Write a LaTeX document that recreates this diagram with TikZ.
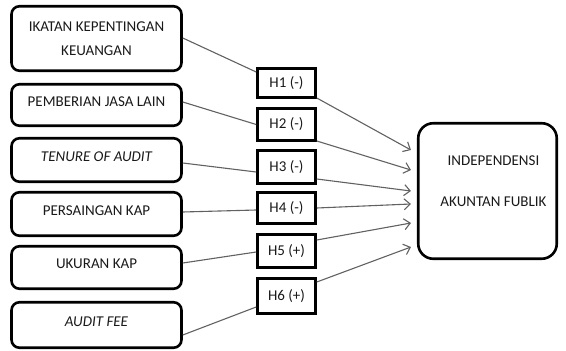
\documentclass[tikz,border=0pt]{standalone}
\usepackage{fontspec}
\setmainfont{Carlito}
\usetikzlibrary{arrows.meta}
\begin{document}
\begin{tikzpicture}[x=1pt,y=-1pt,
  txt/.style={font=\fontsize{15}{18}\selectfont, text=black!90},
  lbox/.style={draw, line width=2.6pt, rounded corners=8pt, minimum width=170pt, inner sep=0pt, txt, align=center},
  lowtxt/.style={text height=10pt, text depth=8pt},
  hbox/.style={draw, line width=2.6pt, minimum width=58pt, inner sep=0pt, txt},
  conn/.style={draw=black!62, line width=1.1pt},
  arr/.style={conn, -{Straight Barb[length=6pt,width=11pt,line width=1.1pt]}}]
\useasboundingbox (0,0) rectangle (566,351);
% left boxes
\node[lbox, minimum height=64.5pt] (b1) at (96.5,38.5) {IKATAN KEPENTINGAN\\[6pt]KEUANGAN};
\node[lbox, lowtxt, minimum height=41.5pt] (b2) at (96.5,105) {PEMBERIAN JASA LAIN};
\node[lbox, lowtxt, minimum height=43.5pt] (b3) at (96.5,160) {\itshape TENURE OF AUDIT};
\node[lbox, lowtxt, minimum height=43.5pt] (b4) at (96.5,214) {PERSAINGAN KAP};
\node[lbox, lowtxt, minimum height=42.5pt] (b5) at (96.5,267.5) {UKURAN KAP};
\node[lbox, lowtxt, minimum height=45.5pt] (b6) at (96.5,325) {\itshape AUDIT FEE};
% hypothesis boxes
\node[hbox, minimum height=29.5pt] (h1) at (286.5,83) {H1 (-)};
\node[hbox, minimum height=32.5pt] (h2) at (286.5,124.5) {H2 (-)};
\node[hbox, minimum height=33.5pt] (h3) at (286.5,167) {H3 (-)};
\node[hbox, minimum height=31.5pt] (h4) at (286.5,208) {H4 (-)};
\node[hbox, minimum height=33.5pt] (h5) at (286.5,251) {H5 (+)};
\node[hbox, minimum height=35.5pt] (h6) at (286.5,296) {H6 (+)};
% right box
\node[draw, line width=2.6pt, rounded corners=15pt, minimum width=138.5pt, minimum height=135.5pt, inner sep=0pt] (rb) at (487.5,191) {};
\node[txt, align=center, inner sep=0pt] (rbt) at (493.5,181.5) {INDEPENDENSI\\[23pt]AKUNTAN FUBLIK};
% connectors left
\draw[conn] ([yshift=0.5pt]b1.east) -- ([yshift=11pt]h1.west);
\draw[conn] ([yshift=3pt]b2.east) -- ([yshift=0pt]h2.west);
\draw[conn] ([yshift=-3pt]b3.east) -- ([yshift=-5pt]h3.west);
\draw[conn] ([yshift=2pt]b4.east) -- ([yshift=-2pt]h4.west);
\draw[conn] ([yshift=4.5pt]b5.east) -- ([yshift=-1pt]h5.west);
\draw[conn] ([yshift=-10pt]b6.east) -- ([yshift=-11pt]h6.west);
% arrows right
\draw[arr] ([yshift=-15pt]h1.east) -- ([xshift=-6pt,yshift=41pt]rb.west);
\draw[arr] ([yshift=-16.5pt]h2.east) -- ([xshift=-6pt,yshift=21pt]rb.west);
\draw[arr] ([yshift=-12pt]h3.east) -- ([xshift=-6pt,yshift=0pt]rb.west);
\draw[arr] ([yshift=0pt]h4.east) -- ([xshift=-6pt,yshift=-13pt]rb.west);
\draw[arr] ([yshift=11pt]h5.east) -- ([xshift=-6pt,yshift=-32pt]rb.west);
\draw[arr] ([yshift=14pt]h6.east) -- ([xshift=-6pt,yshift=-56pt]rb.west);
\end{tikzpicture}
\end{document}
